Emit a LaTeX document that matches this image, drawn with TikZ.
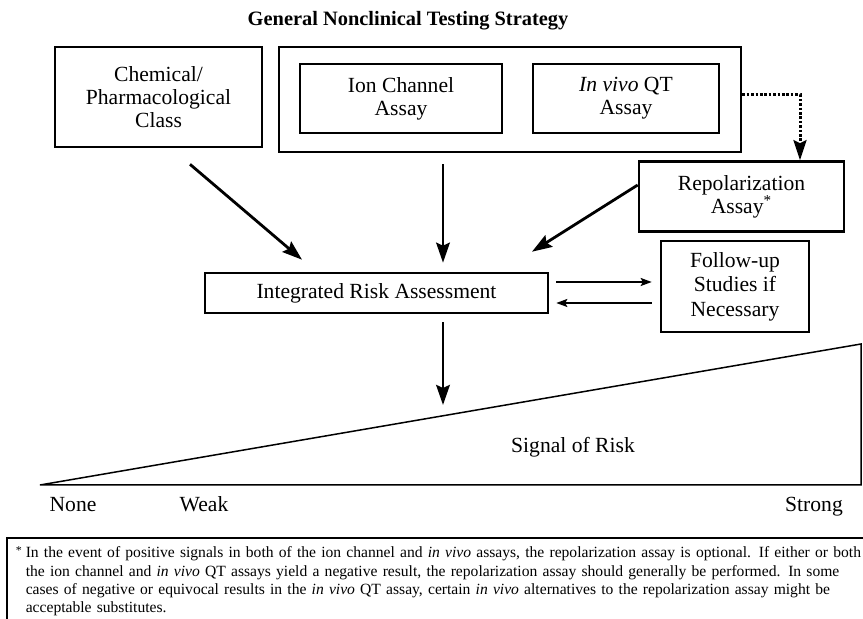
\documentclass[tikz,border=0pt]{standalone}
\usepackage{fontspec}
\setmainfont{Liberation Serif}
\usetikzlibrary{arrows.meta,calc}

\begin{document}
\begin{tikzpicture}[x=0.5pt,y=-0.5pt,
    box/.style={draw,line width=1.3pt,align=center,inner sep=0pt,
      font=\fontsize{10.8}{11.6}\selectfont},
    bigarrow/.style={line width=1.4pt,-{Stealth[length=10pt,width=6.8pt,inset=1.5pt]}},
    thinarrow/.style={line width=0.8pt,-{Stealth[length=5.5pt,width=4pt,inset=1pt]}},
    dotarrow/.style={line width=1.5pt,dash pattern=on 1.3pt off 0.9pt,
      -{Stealth[length=10pt,width=6.5pt,inset=1.5pt]}},
    scaletext/.style={font=\fontsize{10.8}{12}\selectfont,anchor=base}]
  \useasboundingbox (0,0) rectangle (863,619);

  \node[font=\bfseries\fontsize{10.2}{12}\selectfont,anchor=base] (title) at (408,25.5) {General Nonclinical Testing Strategy};

  % boxes
  \node[box,minimum width=103.5pt,minimum height=50pt] (chem) at (158.5,97) {Chemical/\\Pharmacological\\Class};
  \node[box,minimum width=231pt,minimum height=52.5pt] (assays) at (510,99.5) {};
  \node[box,minimum width=101pt,minimum height=34.5pt] (ion) at (401,98.5) {Ion Channel\\Assay};
  \node[box,minimum width=93pt,minimum height=34.5pt] (invivo) at (626,98.5) {\textit{In vivo} QT\\Assay};
  \node[box,minimum width=102.5pt,minimum height=35pt] (repol) at (741.5,196.5) {Repolarization\\Assay\textsuperscript{*}};
  \node[box,minimum width=74pt,minimum height=45.5pt,font=\fontsize{10.8}{12.2}\selectfont] (followup) at (735,286.5) {Follow-up\\Studies if\\Necessary};
  \node[box,minimum width=171.5pt,minimum height=20pt] (risk) at (376.5,293) {Integrated Risk Assessment};

  % arrows
  \draw[bigarrow] ($(chem.south)+(31.5,16)$) -- ($(risk.north)+(-74.5,-12)$);
  \draw[bigarrow] ($(assays.south)+(-67,11)$) -- ($(risk.north)+(66.5,-9)$);
  \draw[bigarrow] ($(repol.west)+(0,-11.5)$) -- ($(risk.north)+(155.5,-20)$);
  \draw[dotarrow] ($(assays.east)+(0,-4.5)$) -| ($(repol.north)+(58.5,0)$);
  \draw[thinarrow] ($(risk.east)+(7,-11)$) -- ($(followup.west)+(-8,-4.5)$);
  \draw[thinarrow] ($(followup.west)+(-8,16.5)$) -- ($(risk.east)+(7,10)$);

  % signal of risk
  \draw[line width=0.75pt] (40,485) -- (861,344) -- (861,485) -- cycle;
  \coordinate (signal) at (443,405);
  \draw[bigarrow] ($(risk.south)+(66.5,8)$) -- (signal);
  \node[scaletext] (sigrisk) at (573,453) {Signal of Risk};
  \node[scaletext] (none) at (73,512) {None};
  \node[scaletext] (weak) at (204,512) {Weak};
  \node[scaletext] (strong) at (814,512) {Strong};

  % footnote
  \node[draw,line width=0.8pt,anchor=north west,inner xsep=9.5pt,inner ysep=4.5pt,
    text width=430pt,align=left,font=\fontsize{7.8}{9.2}\selectfont] (note) at (6,537)
    {\llap{\raisebox{1.5pt}{\fontsize{6}{6}\selectfont *}\hspace{2pt}}In the event of positive signals in both of the ion channel and \textit{in vivo} assays, the repolarization assay is optional. If either or both\\
     the ion channel and \textit{in vivo} QT assays yield a negative result, the repolarization assay should generally be performed. In some\\
     cases of negative or equivocal results in the \textit{in vivo} QT assay, certain \textit{in vivo} alternatives to the repolarization assay might be\\
     acceptable substitutes.};
\end{tikzpicture}
\end{document}
